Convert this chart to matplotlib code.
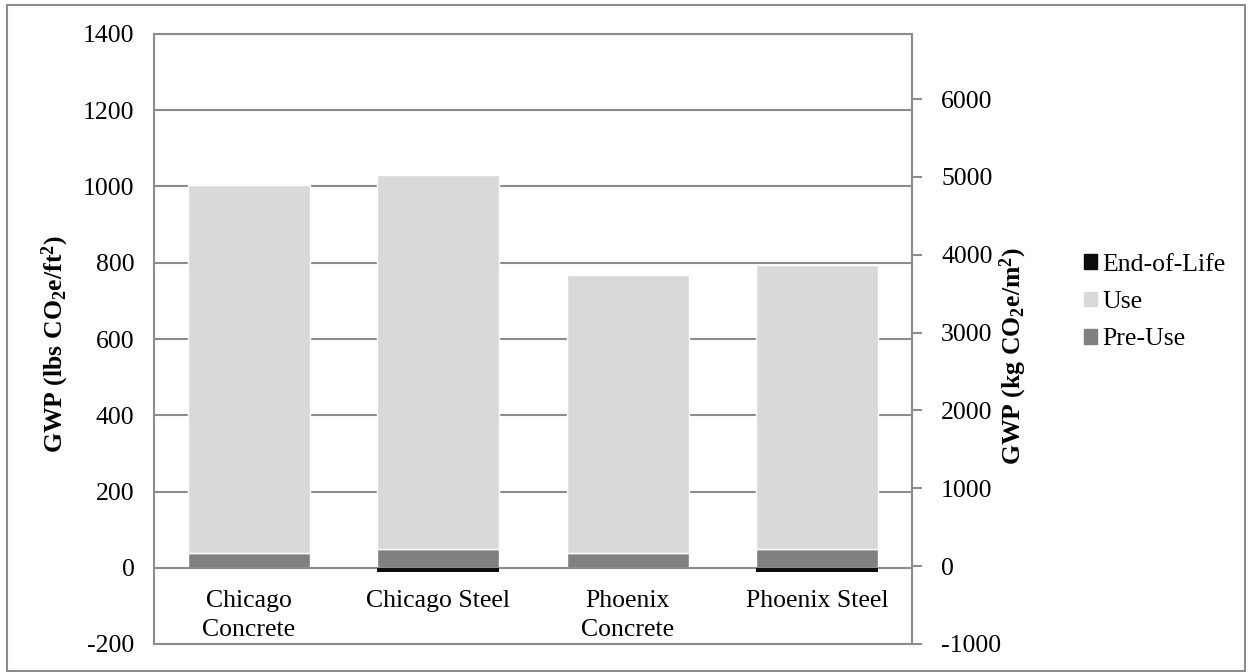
#!/usr/bin/env python3
"""Stacked GWP bars per building case, lbs/ft2 on the left and kg/m2 on the right."""

import matplotlib
matplotlib.use("Agg")
import matplotlib.pyplot as plt
from matplotlib.patches import Patch, Rectangle

# values in lbs CO2e/ft2
cases = ["Chicago\nConcrete", "Chicago Steel", "Phoenix\nConcrete", "Phoenix Steel"]
pre_use = [40, 48, 40, 48]
use = [963, 982, 728, 746]
end_of_life = [-1.5, -11, -1.5, -11]

left_ticks = [-200, 0, 200, 400, 600, 800, 1000, 1200, 1400]
right_ticks = [-1000, 0, 1000, 2000, 3000, 4000, 5000, 6000]

LBS_FT2_TO_KG_M2 = 4.8824

C_PRE = "#808080"
C_USE = "#D9D9D9"
C_EOL = "#0D0D0D"
C_AXIS = "#8C8C8C"
FS = 18.5

plt.rcParams["font.family"] = ["Liberation Serif", "DejaVu Serif"]
plt.rcParams["mathtext.fontset"] = "custom"
plt.rcParams["mathtext.rm"] = "Liberation Serif:bold"
plt.rcParams["mathtext.bf"] = "Liberation Serif:bold"
plt.rcParams["mathtext.default"] = "rm"

fig = plt.figure(figsize=(12.52, 6.72), dpi=100)
ax = fig.add_axes([154 / 1252, 1 - 644 / 672, (912 - 154) / 1252, (644 - 34) / 672])

x = list(range(len(cases)))
width = 0.645
ax.bar(x, pre_use, width, color=C_PRE, edgecolor="white", linewidth=1, zorder=2)
ax.bar(x, use, width, bottom=pre_use, color=C_USE, edgecolor="white", linewidth=1, zorder=2)
ax.bar(x, end_of_life, width, color=C_EOL, linewidth=0, zorder=4)

ax.set_xlim(-0.5, len(cases) - 0.5)
ax.set_ylim(left_ticks[0], left_ticks[-1])
ax.set_yticks(left_ticks)
ax.set_yticklabels([str(t) for t in left_ticks], fontsize=FS)
ax.tick_params(axis="y", length=0, pad=14)
ax.set_xticks([])
ax.yaxis.grid(True, color=C_AXIS, linewidth=1.5, zorder=0)
ax.set_axisbelow(True)
ax.axhline(0, color=C_AXIS, linewidth=1.5, zorder=3)
for s in ax.spines.values():
    s.set_color(C_AXIS)
    s.set_linewidth(1.5)

# category labels sit just under the zero line, inside the plot
for xi, name in zip(x, cases):
    ax.annotate(name, (xi, 0), xytext=(0, -16), textcoords="offset points",
                ha="center", va="top", fontsize=FS, linespacing=1.4)

ax2 = ax.twinx()
ax2.set_ylim(-1000, left_ticks[-1] * LBS_FT2_TO_KG_M2)
ax2.set_yticks(right_ticks)
ax2.set_yticklabels([str(t) for t in right_ticks], fontsize=FS)
ax2.tick_params(axis="y", length=7, width=1.5, color=C_AXIS, pad=14)
for s in ax2.spines.values():
    s.set_visible(False)

fig.text(55 / 1252, 1 - 344 / 672, r"GWP (lbs CO$_2$e/ft$^2$)", rotation=90,
         ha="center", va="center", fontsize=FS, fontweight="bold")
fig.text(1013 / 1252, 1 - 356 / 672, r"GWP (kg CO$_2$e/m$^2$)", rotation=90,
         ha="center", va="center", fontsize=FS, fontweight="bold")

handles = [Patch(color=C_EOL), Patch(color=C_USE), Patch(color=C_PRE)]
fig.legend(handles, ["End-of-Life", "Use", "Pre-Use"], loc="center left",
           bbox_to_anchor=(1074 / 1252, 1 - 302 / 672), frameon=False,
           fontsize=FS, handlelength=0.5, handleheight=0.5, handletextpad=0.2,
           labelspacing=0.6, borderaxespad=0)

fig.patches.append(Rectangle((7 / 1252, 1 / 672), 1238 / 1252, 666 / 672,
                             transform=fig.transFigure, fill=False,
                             edgecolor=C_AXIS, linewidth=1.5))

fig.savefig("out.png", dpi=100)
